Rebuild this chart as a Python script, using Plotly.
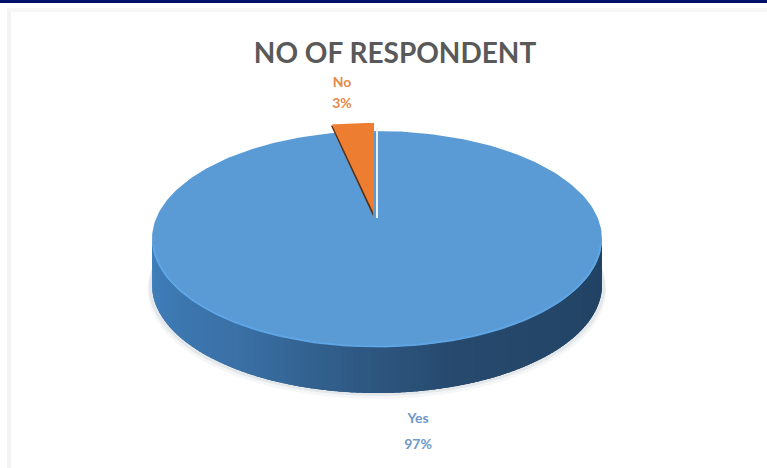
import numpy as np
import plotly.graph_objects as go

categories = ["Yes", "No"]
shares = [97, 3]
title_text = "NO OF RESPONDENT"

W, H = 767, 468
CX, CY, RX, RY, DEPTH = 377, 239, 225, 108, 46
BLUE, ORANGE = "#5B9BD5", "#ED7D31"

fig = go.Figure()


def poly(xs, ys, color, line=None):
    fig.add_trace(go.Scatter(
        x=xs, y=ys, mode="lines", fill="toself", fillcolor=color,
        line=dict(width=line or 0, color=color), hoverinfo="skip", showlegend=False))


def ell(t, cy=CY, rx=RX, ry=RY, cx=CX):
    return cx + rx * np.sin(t), cy - ry * np.cos(t)


def mix(stops, f):
    xs = [s[0] for s in stops]
    r = np.interp(f, xs, [s[1][0] for s in stops])
    g = np.interp(f, xs, [s[1][1] for s in stops])
    b = np.interp(f, xs, [s[1][2] for s in stops])
    return f"rgb({r:.0f},{g:.0f},{b:.0f})"


# soft ground shadow
full = np.linspace(0, 2 * np.pi, 240)
for grow, col in [(7, "rgba(225,228,232,0.35)"), (4, "rgba(215,220,226,0.55)")]:
    sx, sy = ell(full, cy=CY + DEPTH + grow - 2, rx=RX + 2 + grow / 3, ry=RY + 1)
    poly(sx, sy, col)

# side wall: overlapping colour strips along the lower half of the disc
side_stops = [(0.0, (64, 128, 190)), (0.3, (58, 112, 165)), (0.5, (45, 86, 127)),
              (0.62, (38, 73, 109)), (1.0, (33, 66, 98))]
edges = np.linspace(np.pi / 2 - 0.02, 3 * np.pi / 2 + 0.02, 121)
step = edges[1] - edges[0]
for a in edges[:-1]:
    tt = np.linspace(a, a + 2.5 * step, 5)
    x0, y0 = ell(tt)
    x1, y1 = ell(tt[::-1], cy=CY + DEPTH)
    f = float(np.clip(1 - (a - np.pi / 2) / np.pi, 0, 1))   # 0 at the left, 1 at the right
    poly(np.r_[x0, x1], np.r_[y0, y1], mix(side_stops, f))

# top face, largest slice: its sweep comes from the share
total = sum(shares)
no_sweep = 2 * np.pi * shares[1] / total
APEX_X, APEX_Y = 375, 214
arc = np.linspace(-no_sweep, 2 * np.pi - no_sweep, 300)
tx, ty = ell(arc)
poly(tx, ty, BLUE)

# bright bevel on the lower rim
rim = np.linspace(np.pi / 2 + 0.05, 3 * np.pi / 2 - 0.05, 120)
rx_, ry_ = ell(rim, rx=RX - 1, ry=RY - 0.5)
fig.add_trace(go.Scatter(x=rx_, y=ry_, mode="lines", line=dict(color="#5FA8EA", width=2),
                         opacity=0.8, hoverinfo="skip", showlegend=False))

# exploded small slice
SLICE_RY = 91
sl = np.linspace(-no_sweep, 0, 12)
ox = APEX_X - 1 + RX * np.sin(sl)
oy = APEX_Y - SLICE_RY * np.cos(sl)
# white sliver on the cut face
poly([APEX_X + 1, APEX_X + 1, APEX_X + 3, APEX_X + 3],
     [APEX_Y + 4, APEX_Y - SLICE_RY + 5, APEX_Y - SLICE_RY + 5, APEX_Y + 4], "#F3F1EE")
# dark inner wall
poly(np.r_[ox[0] - 1, APEX_X - 2, APEX_X - 1, ox[0] + 3],
     np.r_[oy[0] + 1, APEX_Y + 2, APEX_Y - 8, oy[0] + 2], "#5A3010")
poly(np.r_[APEX_X - 1, ox], np.r_[APEX_Y, oy], ORANGE)

# title and data labels
fig.add_trace(go.Scatter(x=[395], y=[56], mode="text", text=[title_text],
                         textfont=dict(family="Lato", size=28, color="#595959", weight="bold"),
                         hoverinfo="skip", showlegend=False))
label_pos = {"Yes": (418, 419, 445, "#6F98C8"), "No": (342, 83, 104, "#E58A48")}
for name, val in zip(categories, shares):
    lx, y1, y2, col = label_pos[name]
    fig.add_trace(go.Scatter(x=[lx, lx], y=[y1, y2], mode="text", text=[name, f"{val}%"],
                             textfont=dict(family="Lato", size=14, color=col, weight="bold"),
                             hoverinfo="skip", showlegend=False))

fig.update_layout(
    width=W, height=H, margin=dict(l=0, r=0, t=0, b=0),
    paper_bgcolor="white", plot_bgcolor="white", showlegend=False,
    xaxis=dict(range=[0, W], visible=False, fixedrange=True),
    yaxis=dict(range=[H, 0], visible=False, fixedrange=True),
    shapes=[
        dict(type="rect", xref="x", yref="y", x0=0, x1=W, y0=0, y1=3, layer="below",
             fillcolor="#00106A", line_width=0),
        dict(type="rect", xref="x", yref="y", x0=7, x1=11, y0=8, y1=H, layer="below",
             fillcolor="#F3F3F3", line_width=0),
        dict(type="rect", xref="x", yref="y", x0=7, x1=W, y0=8, y1=12, layer="below",
             fillcolor="#F6F6F6", line_width=0),
    ],
)
fig.write_html("out.html", config={"displayModeBar": False},
               post_script="document.body.style.margin='0';document.body.style.overflow='hidden';")
